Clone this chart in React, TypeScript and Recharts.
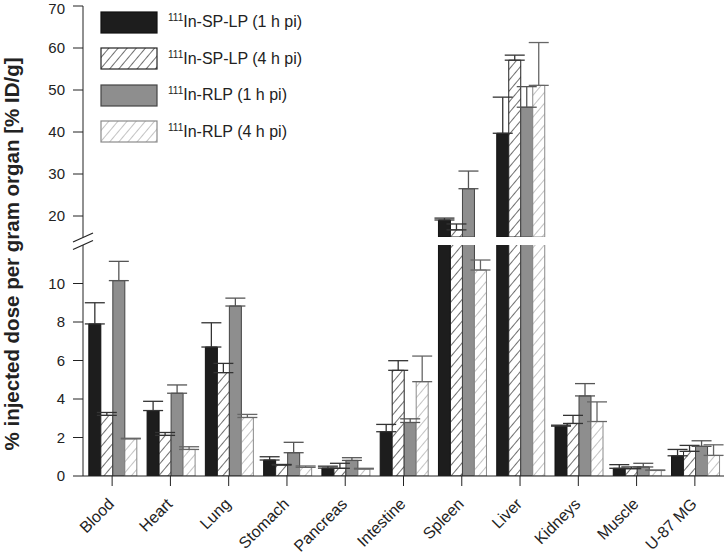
import { Bar, BarChart, ErrorBar, XAxis, YAxis } from "recharts";

const categories = ["Blood", "Heart", "Lung", "Stomach", "Pancreas", "Intestine", "Spleen", "Liver", "Kidneys", "Muscle", "U-87 MG"];

const spLp1h = [7.9, 3.4, 6.7, 0.83, 0.41, 2.3, 19.05, 39.7, 2.59, 0.4, 1.05];
const spLp1hErr = [1.1, 0.48, 1.26, 0.17, 0.1, 0.38, 0.45, 8.6, 0.05, 0.19, 0.33];
const spLp4h = [3.15, 2.11, 5.37, 0.57, 0.4, 5.49, 16.7, 57.1, 2.73, 0.38, 1.28];
const spLp4hErr = [0.15, 0.15, 0.48, 0.03, 0.26, 0.5, 1.4, 1.2, 0.42, 0.09, 0.31];
const rlp1h = [10.15, 4.3, 8.83, 1.21, 0.81, 2.78, 26.5, 45.9, 4.16, 0.47, 1.54];
const rlp1hErr = [1.0, 0.43, 0.41, 0.54, 0.14, 0.19, 4.2, 4.9, 0.64, 0.19, 0.29];
const rlp4h = [1.93, 1.38, 3.04, 0.45, 0.36, 4.9, 10.7, 51.1, 2.83, 0.29, 1.07];
const rlp4hErr = [0.03, 0.14, 0.16, 0.07, 0.04, 1.33, 0.52, 10.2, 1.02, 0.02, 0.55];

const upperTicks = [20, 30, 40, 50, 60, 70];
const lowerTicks = [0, 2, 4, 6, 8, 10];
const UPPER_MIN = 15;
const UPPER_MAX = 70;
const LOWER_MAX = 12;

const FONT = '"Liberation Sans", Arial, Helvetica, sans-serif';
const INK = "#222";

const series = [
  { key: "s1", name: "In-SP-LP (1 h pi)", values: spLp1h, errors: spLp1hErr, fill: "#1d1d1d", stroke: "#111", err: "#333" },
  { key: "s2", name: "In-SP-LP (4 h pi)", values: spLp4h, errors: spLp4hErr, fill: "hatchDark", stroke: "#222", err: "#333" },
  { key: "s3", name: "In-RLP (1 h pi)", values: rlp1h, errors: rlp1hErr, fill: "#8e8e8e", stroke: "#444", err: "#555" },
  { key: "s4", name: "In-RLP (4 h pi)", values: rlp4h, errors: rlp4hErr, fill: "hatchLight", stroke: "#8a8a8a", err: "#666" },
];

const upperData = categories.map((name, i) => {
  const row: Record<string, any> = { name };
  series.forEach((s) => {
    const v = s.values[i];
    row[s.key] = v >= UPPER_MIN ? v : null;
    row[s.key + "e"] = v >= UPPER_MIN ? [0, s.errors[i]] : null;
  });
  return row;
});

const lowerData = categories.map((name, i) => {
  const row: Record<string, any> = { name };
  series.forEach((s) => {
    const v = s.values[i];
    row[s.key] = v;
    row[s.key + "e"] = v <= LOWER_MAX ? [0, s.errors[i]] : null;
  });
  return row;
});

function Patterns({ prefix }: { prefix: string }) {
  return (
    <defs>
      <pattern id={prefix + "hatchDark"} patternUnits="userSpaceOnUse" width={7} height={7} patternTransform="rotate(40)">
        <rect width={7} height={7} fill="#fff" />
        <line x1={0} y1={0} x2={0} y2={7} stroke="#222" strokeWidth={1.3} />
      </pattern>
      <pattern id={prefix + "hatchLight"} patternUnits="userSpaceOnUse" width={7} height={7} patternTransform="rotate(40)">
        <rect width={7} height={7} fill="#fff" />
        <line x1={0} y1={0} x2={0} y2={7} stroke="#9a9a9a" strokeWidth={1.2} />
      </pattern>
    </defs>
  );
}

const fillFor = (fill: string, prefix: string) => (fill.startsWith("hatch") ? `url(#${prefix}${fill})` : fill);

const CategoryTick = (props: any) => {
  const { x, y, payload } = props;
  return (
    <g transform={`translate(${x + 3},${y + 17}) rotate(-45)`}>
      <text x={0} y={0} textAnchor="end" fontSize={16} fontFamily={FONT} fill={INK}>
        {payload.value}
      </text>
    </g>
  );
};

const tickStyle = { fontSize: 15, fontFamily: FONT, fill: INK };

function renderBars(prefix: string) {
  return series.map((s) => (
    <Bar
      key={s.key}
      dataKey={s.key}
      fill={fillFor(s.fill, prefix)}
      stroke={s.stroke}
      strokeWidth={1}
      isAnimationActive={false}
    >
      <ErrorBar dataKey={s.key + "e"} width={10} stroke={s.err} strokeWidth={1.3} direction="y" />
    </Bar>
  ));
}

function Legend() {
  return (
    <div style={{ position: "absolute", left: 100, top: 11, fontFamily: FONT, color: INK }}>
      {series.map((s) => (
        <div key={s.key} style={{ display: "flex", alignItems: "center", height: 22, marginBottom: 14.5 }}>
          <svg width={59} height={23} style={{ display: "block" }}>
            <Patterns prefix={"lg" + s.key} />
            <rect
              x={1}
              y={1}
              width={56}
              height={21}
              fill={fillFor(s.fill, "lg" + s.key)}
              stroke={s.stroke}
              strokeWidth={1.2}
            />
          </svg>
          <span style={{ marginLeft: 9, fontSize: 16, whiteSpace: "nowrap" }}>
            <sup style={{ fontSize: 10, verticalAlign: "top", position: "relative", top: -1 }}>111</sup>
            {s.name}
          </span>
        </div>
      ))}
    </div>
  );
}

export default function App() {
  return (
    <div style={{ position: "fixed", left: 0, top: 0, width: 725, height: 553, background: "#fff" }}>
      <div style={{ position: "absolute", left: 0, top: 0 }}>
        <BarChart
          width={725}
          height={553}
          data={upperData}
          margin={{ top: 6, right: 1, bottom: 316, left: 0 }}
          barCategoryGap="10%"
          barGap={0}
        >
          <Patterns prefix="up" />
          <XAxis dataKey="name" hide />
          <YAxis
            width={83}
            domain={[UPPER_MIN, UPPER_MAX]}
            ticks={upperTicks}
            allowDataOverflow
            tick={tickStyle}
            tickSize={10}
            tickMargin={8}
            stroke={INK}
          />
          {renderBars("up")}
        </BarChart>
      </div>
      <div style={{ position: "absolute", left: 0, top: 0 }}>
        <BarChart
          width={725}
          height={553}
          data={lowerData}
          margin={{ top: 245, right: 1, bottom: 0, left: 0 }}
          barCategoryGap="10%"
          barGap={0}
        >
          <Patterns prefix="lo" />
          <XAxis
            dataKey="name"
            height={77}
            tickSize={10}
            tick={<CategoryTick />}
            interval={0}
            stroke={INK}
          />
          <YAxis
            width={83}
            domain={[0, LOWER_MAX]}
            ticks={lowerTicks}
            allowDataOverflow
            tick={tickStyle}
            tickSize={10}
            tickMargin={8}
            stroke={INK}
          />
          {renderBars("lo")}
        </BarChart>
      </div>
      <svg width={725} height={553} style={{ position: "absolute", left: 0, top: 0, pointerEvents: "none" }}>
        <line x1={73} y1={242} x2={93} y2={233} stroke={INK} strokeWidth={1.2} />
        <line x1={73} y1={249.5} x2={93} y2={240.5} stroke={INK} strokeWidth={1.2} />
        <text
          transform="translate(18.5,254) rotate(-90)"
          textAnchor="middle"
          fontSize={20.5}
          fontWeight="bold"
          fontFamily={FONT}
          fill={INK}
        >
          % injected dose per gram organ [% ID/g]
        </text>
      </svg>
      <Legend />
    </div>
  );
}
